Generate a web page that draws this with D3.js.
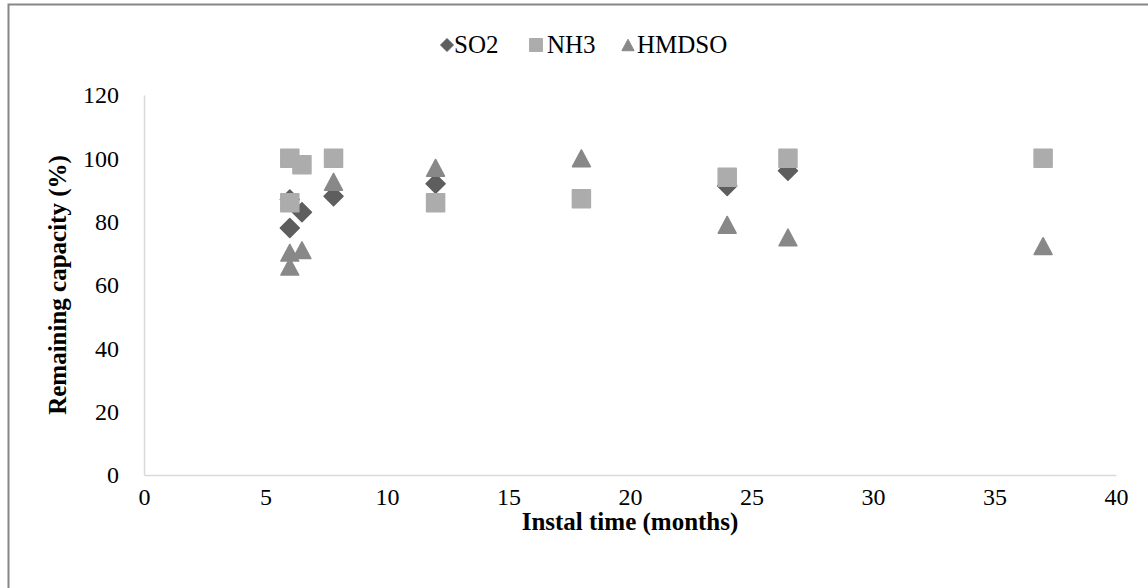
<!DOCTYPE html>
<html>
<head>
<meta charset="utf-8">
<script src="https://cdn.jsdelivr.net/npm/d3@7"></script>
<style>
  html, body { margin: 0; padding: 0; background: #fff; }
  svg { display: block; }
</style>
</head>
<body>
<svg id="chart" width="1148" height="588" font-family="Liberation Serif"></svg>
<script>
// ---- data ----
const seriesNames = ["SO2", "NH3", "HMDSO"];
const so2X = [6, 6, 6.5, 7.8, 12, 24, 26.5];
const so2Y = [87, 78, 83, 88, 92, 91.3, 96.1];
const nh3X = [6, 6, 6.5, 7.8, 12, 18, 24, 26.5, 37];
const nh3Y = [100, 86, 98, 100, 86, 87.2, 94, 100, 100];
const hmdsoX = [6, 6, 6.5, 7.8, 12, 18, 24, 26.5, 37];
const hmdsoY = [70.2, 65.8, 71, 92.6, 97, 100, 79, 75, 72.3];
const xTicks = [0, 5, 10, 15, 20, 25, 30, 35, 40];
const yTicks = [0, 20, 40, 60, 80, 100, 120];
const xTitle = "Instal time (months)";
const yTitle = "Remaining capacity (%)";
const chartTitle = "Remaining capacity";

const colors = { SO2: "#5e5e5e", NH3: "#acacac", HMDSO: "#888888" };
const SERIF = "Liberation Serif";

// ---- layout ----
const svg = d3.select("#chart");
svg.append("rect").attr("width", 1148).attr("height", 588).attr("fill", "#fff");

// outer border (chart area frame, cut off at right/bottom)
svg.append("rect")
  .attr("x", 8.5).attr("y", 4.5).attr("width", 1160).attr("height", 600)
  .attr("fill", "none").attr("stroke", "#878787").attr("stroke-width", 2);

// clipped title (only descenders visible, as in the reference)
svg.append("text")
  .attr("x", 50).attr("y", -5)
  .attr("font-family", SERIF)
  .attr("font-size", 26).attr("font-weight", "bold")
  .text(chartTitle);

const x = d3.scaleLinear().domain([0, 40]).range([144, 1116]);
const y = d3.scaleLinear().domain([0, 120]).range([475, 95]);

// axes
const xAxis = d3.axisBottom(x).tickValues(xTicks).tickSize(0).tickPadding(13).tickFormat(d3.format("d"));
const yAxis = d3.axisLeft(y).tickValues(yTicks).tickSize(0).tickPadding(25).tickFormat(d3.format("d"));

const gx = svg.append("g").attr("transform", `translate(0,${y(0)})`).call(xAxis);
const gy = svg.append("g").attr("transform", `translate(${x(0)},0)`).call(yAxis);
[gx, gy].forEach(g => {
  g.attr("font-family", SERIF).attr("font-size", 24);
  g.select(".domain").attr("stroke", "#d9d9d9").attr("stroke-width", 1.5);
  g.selectAll("text")
    .attr("font-family", SERIF)
    .attr("font-size", 24)
    .attr("fill", "#000");
});

// axis titles
svg.append("text")
  .attr("x", 630).attr("y", 530)
  .attr("text-anchor", "middle")
  .attr("font-family", SERIF)
  .attr("font-size", 25).attr("font-weight", "bold")
  .text(xTitle);

svg.append("text")
  .attr("transform", `translate(66,${y(60)}) rotate(-90)`)
  .attr("text-anchor", "middle")
  .attr("font-family", SERIF)
  .attr("font-size", 25).attr("font-weight", "bold")
  .text(yTitle);

// ---- marker shapes ----
function markerPath(name, s) {
  const h = s / 2;
  if (name === "SO2") {
    return `M0,${-h}L${h},0L0,${h}L${-h},0Z`;
  } else if (name === "NH3") {
    return `M${-h},${-h}H${h}V${h}H${-h}Z`;
  } else {
    const w = s * 0.47, th = s * 0.44;
    return `M0,${-th}L${w},${th}L${-w},${th}Z`;
  }
}

const seriesData = [
  { name: "SO2", xs: so2X, ys: so2Y, size: 19 },
  { name: "NH3", xs: nh3X, ys: nh3Y, size: 18 },
  { name: "HMDSO", xs: hmdsoX, ys: hmdsoY, size: 19 }
];

seriesData.forEach(s => {
  const pts = s.xs.map((v, i) => ({ x: v, y: s.ys[i] }));
  svg.append("g").selectAll("path")
    .data(pts).join("path")
    .attr("transform", d => `translate(${x(d.x)},${y(d.y)})`)
    .attr("d", markerPath(s.name, s.size))
    .attr("fill", colors[s.name])
    .attr("stroke", colors[s.name])
    .attr("stroke-width", 1.5)
    .attr("stroke-linejoin", "round");
});

// ---- legend ----
const legendItems = [
  { name: "SO2", mx: 447, tx: 454 },
  { name: "NH3", mx: 536, tx: 547 },
  { name: "HMDSO", mx: 628, tx: 637 }
];
const lg = svg.append("g");
legendItems.forEach(it => {
  lg.append("path")
    .attr("transform", `translate(${it.mx},45)`)
    .attr("d", markerPath(it.name, 13))
    .attr("fill", colors[it.name])
    .attr("stroke", colors[it.name])
    .attr("stroke-width", 1)
    .attr("stroke-linejoin", "round");
  lg.append("text")
    .attr("x", it.tx).attr("y", 53)
    .attr("font-family", SERIF)
    .attr("font-size", 25)
    .text(it.name);
});
</script>
</body>
</html>
